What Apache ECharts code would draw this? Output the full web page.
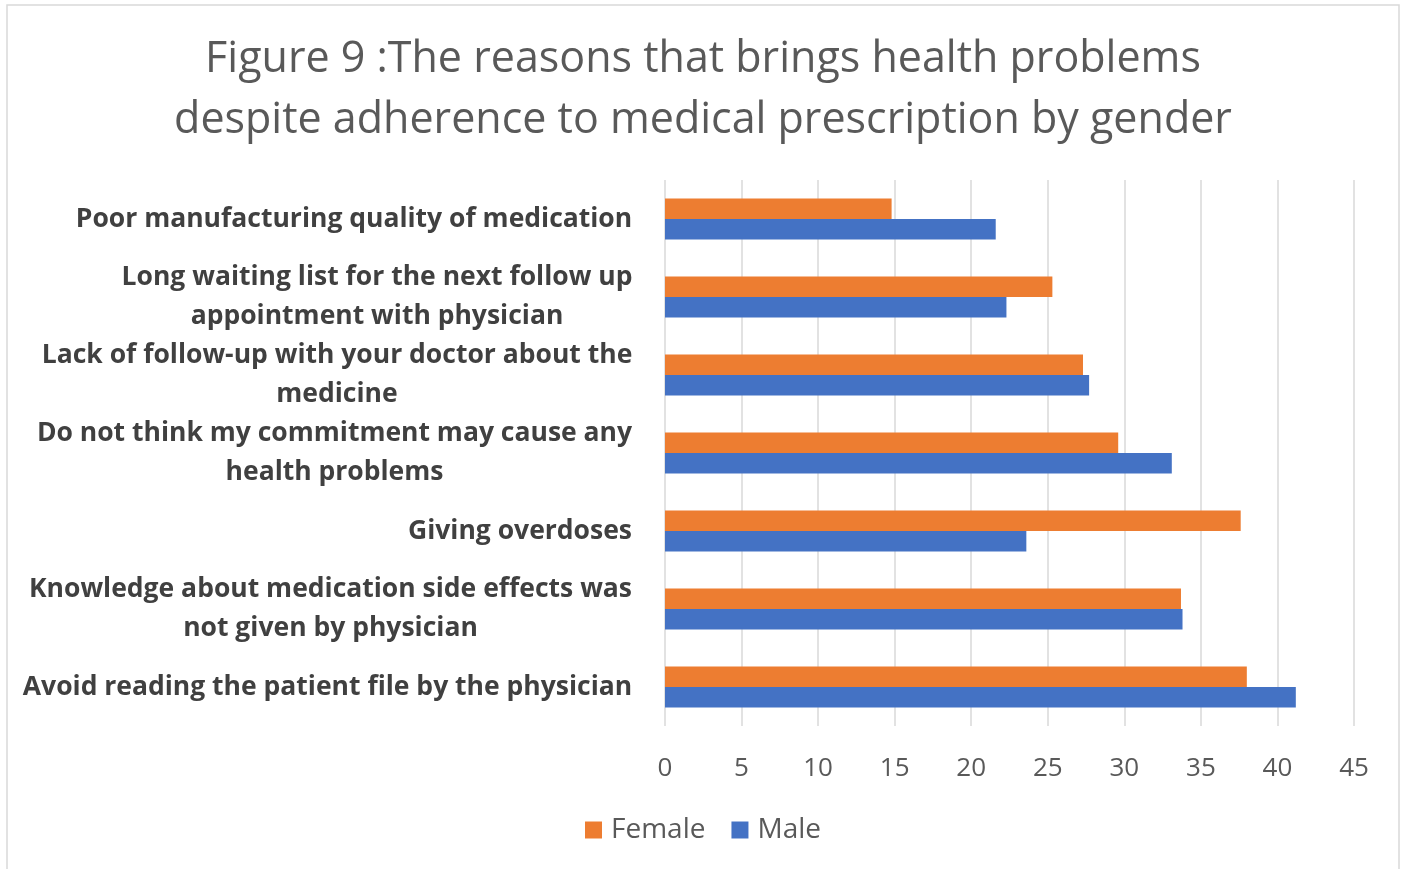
<!DOCTYPE html>
<html>
<head>
<meta charset="utf-8">
<script src="https://cdn.jsdelivr.net/npm/echarts@6/dist/echarts.min.js"></script>
<style>
  html, body { margin: 0; padding: 0; background: #ffffff; }
  #chart { width: 1406px; height: 869px; }
</style>
</head>
<body>
<div id="chart"></div>
<script>
// Reasons, listed top to bottom; '\n' marks where a long reason wraps
const categories = [
  'Poor manufacturing quality of medication',
  'Long waiting list for the next follow up\nappointment with physician',
  'Lack of follow-up with your doctor about the\nmedicine',
  'Do not think my commitment may cause any\nhealth problems',
  'Giving overdoses',
  'Knowledge about medication side effects was\nnot given by physician',
  'Avoid reading the patient file by the physician'
];
const femaleValues = [14.8, 25.3, 27.3, 29.6, 37.6, 33.7, 38.0];
const maleValues   = [21.6, 22.3, 27.7, 33.1, 23.6, 33.8, 41.2];
const xTicks = [0, 5, 10, 15, 20, 25, 30, 35, 40, 45];
const titleLines = [
  'Figure 9 :The reasons that brings health problems',
  'despite adherence to medical prescription by gender'
];

const FONT = '"Open Sans", "Noto Sans", sans-serif';
const measureCtx = document.createElement('canvas').getContext('2d');
function textWidth(text, size, weight) {
  measureCtx.font = weight + ' ' + size + 'px ' + FONT;
  return measureCtx.measureText(text).width;
}
// Pick a font size so that the given text spans roughly the target width
function fitSize(text, target, weight) {
  const w = textWidth(text, 100, weight);
  return Math.round(100 * target / w * 2) / 2;
}

const titleSize = fitSize(titleLines[0], 996, 'normal');
const labelWeight = 'bold';
const labelSize = fitSize('Avoid reading the patient file by the physician', 608, labelWeight);

// Each label block gets a fixed width so its lines are centred on each other
const rich = {};
categories.forEach((c, i) => {
  const w = Math.max(...c.split('\n').map(l => textWidth(l, labelSize, labelWeight)));
  rich['c' + i] = {
    width: Math.ceil(w) + 1,
    align: 'center',
    fontFamily: FONT,
    fontSize: labelSize,
    fontWeight: labelWeight,
    color: '#404040',
    lineHeight: 39
  };
});

const chart = echarts.init(document.getElementById('chart'));
chart.setOption({
  animation: false,
  backgroundColor: '#ffffff',
  graphic: [{
    type: 'rect',
    silent: true,
    shape: { x: 7, y: 5, width: 1392, height: 880 },
    style: { fill: 'none', stroke: '#d9d9d9', lineWidth: 1.5 }
  }],
  title: {
    text: titleLines.join('\n'),
    left: 'center',
    top: 24,
    textStyle: {
      fontFamily: FONT,
      fontSize: titleSize,
      fontWeight: 'normal',
      color: '#595959',
      lineHeight: 61
    }
  },
  legend: {
    bottom: 20,
    left: 'center',
    itemWidth: 17,
    itemHeight: 17,
    itemGap: 26,
    icon: 'rect',
    textStyle: { fontFamily: FONT, fontSize: 28, color: '#595959', padding: [0, 0, 0, 4] },
    data: ['Female', 'Male']
  },
  grid: { left: 665, right: 52, top: 180, bottom: 143, containLabel: false },
  xAxis: {
    type: 'value',
    min: xTicks[0],
    max: xTicks[xTicks.length - 1],
    interval: 5,
    axisLine: { show: false },
    axisTick: { show: false },
    splitLine: { show: true, lineStyle: { color: '#d9d9d9', width: 1.5 } },
    axisLabel: {
      margin: 30,
      fontFamily: FONT,
      fontSize: 26,
      color: '#595959'
    }
  },
  yAxis: {
    type: 'category',
    inverse: true,
    data: categories,
    axisLine: { show: false },
    axisTick: { show: false },
    axisLabel: {
      margin: 32,
      align: 'right',
      rich: rich,
      formatter: (value, idx) => value.split('\n').map(l => '{c' + idx + '|' + l + '}').join('\n')
    }
  },
  series: [
    {
      name: 'Female',
      type: 'bar',
      data: femaleValues,
      barWidth: 20.5,
      barGap: '0%',
      itemStyle: { color: '#ed7d31' }
    },
    {
      name: 'Male',
      type: 'bar',
      data: maleValues,
      barWidth: 20.5,
      barGap: '0%',
      itemStyle: { color: '#4472c4' }
    }
  ]
});
</script>
</body>
</html>
